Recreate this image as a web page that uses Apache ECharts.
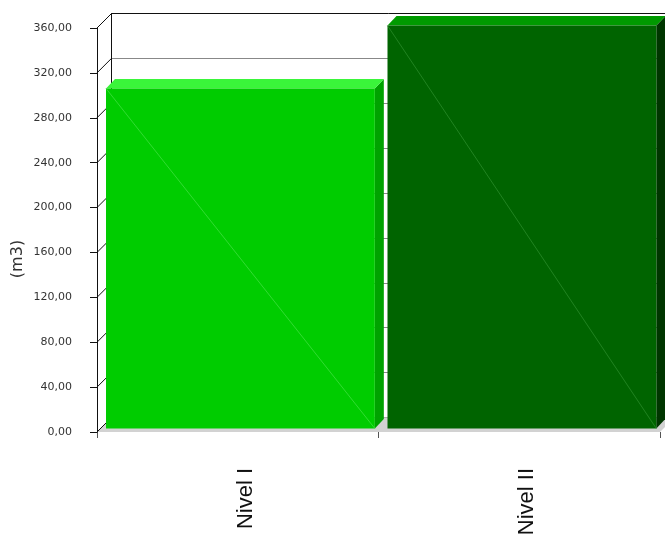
<!DOCTYPE html>
<html>
<head>
<meta charset="utf-8">
<script src="https://cdn.jsdelivr.net/npm/echarts@6/dist/echarts.min.js"></script>
<style>html,body{margin:0;padding:0;background:#fff}#c{width:665px;height:549px}</style>
</head>
<body>
<div id="c"></div>
<script>
// ---- data ----
const categories = ['Nivel I', 'Nivel II'];
const volumes = [303, 359];
const yTicks = [0, 40, 80, 120, 160, 200, 240, 280, 320, 360];
const yAxisName = '(m3)';

// ---- styles ----
const frontColors = ['#00cc00', '#006400'];
const topColors = ['#3af53a', '#009a00'];
const sideColors = ['#00a300', '#003600'];
const diagColors = ['#3fe03f', '#2a8a2a'];
const DEPTH = 14.5;

const chart = echarts.init(document.getElementById('c'), null, {renderer: 'canvas'});
const fmt = v => v.toFixed(2).replace('.', ',');

const splitColors = yTicks.map((t, i) => i === yTicks.length - 1 ? '#111' : '#888');

chart.setOption({
  animation: false,
  backgroundColor: '#fff',
  grid: [
    {left: 97, top: 28, width: 563, height: 404},
    {left: 97 + DEPTH, top: 28 - DEPTH, width: 563, height: 404}
  ],
  xAxis: [
    {
      type: 'category', gridIndex: 0, data: categories,
      axisLine: {show: false},
      axisTick: {show: true, length: 6, lineStyle: {color: '#555'}},
      axisLabel: {
        rotate: 90, margin: 36, fontSize: 22, color: '#111',
        fontFamily: 'Liberation Sans', verticalAlign: 'top', lineHeight: 16
      },
      splitLine: {show: false}
    },
    {
      type: 'category', gridIndex: 1, data: categories, show: false
    }
  ],
  yAxis: [
    {
      type: 'value', gridIndex: 0, min: 0, max: 360, interval: 40, z: 10,
      axisLine: {show: true, lineStyle: {color: '#111', width: 1}},
      axisTick: {show: true, length: 7, lineStyle: {color: '#111'}},
      axisLabel: {formatter: fmt, margin: 25, fontSize: 11, color: '#333', fontFamily: 'DejaVu Sans'},
      splitLine: {show: false}
    },
    {
      type: 'value', gridIndex: 1, min: 0, max: 360, interval: 40, z: 0,
      axisLine: {show: true, lineStyle: {color: '#111', width: 1}},
      axisTick: {show: false},
      axisLabel: {show: false},
      splitLine: {show: true, lineStyle: {color: splitColors, width: 1}}
    }
  ],
  graphic: [{
    type: 'text', x: 18, y: 259, rotation: Math.PI / 2,
    style: {text: yAxisName, fontSize: 16, fill: '#333', fontFamily: 'DejaVu Sans',
      align: 'center', verticalAlign: 'middle'}
  }],
  series: [
    {
      // floor
      type: 'custom', xAxisIndex: 0, yAxisIndex: 0, z: 1, silent: true,
      data: [[0, 0]],
      renderItem: function (params, api) {
        const cs = params.coordSys;
        const yb = api.coord([0, 0])[1];
        return {
          type: 'polygon',
          shape: {points: [[cs.x, yb], [cs.x + cs.width, yb], [cs.x + cs.width + DEPTH, yb - DEPTH], [cs.x + DEPTH, yb - DEPTH]]},
          style: {fill: '#d2d2d2'}
        };
      }
    },
    {
      // tick connectors between front axis and back wall
      type: 'custom', xAxisIndex: 0, yAxisIndex: 0, z: 2, silent: true,
      data: yTicks.map(t => [0, t]),
      renderItem: function (params, api) {
        const cs = params.coordSys;
        const y = api.coord([0, api.value(1)])[1];
        return {
          type: 'line',
          shape: {x1: cs.x, y1: y, x2: cs.x + DEPTH, y2: y - DEPTH},
          style: {stroke: '#111', lineWidth: 1}
        };
      }
    },
    {
      // 3D bars
      type: 'custom', xAxisIndex: 0, yAxisIndex: 0, z: 3, silent: true,
      data: volumes.map((v, i) => [i, v]),
      renderItem: function (params, api) {
        const i = api.value(0), v = api.value(1);
        const base = api.coord([i, 0]);
        const top = api.coord([i, v]);
        const bw = api.size([1, 0])[0];
        const x0 = base[0] - bw / 2 + 9;
        const x1 = x0 + bw * 0.955;
        const yb = base[1] - 3.5;
        const yt = top[1] - 3.5;
        const dx = 9, dy = 9.5;
        return {
          type: 'group',
          children: [
            {type: 'polygon', shape: {points: [[x1, yt], [x1 + dx, yt - dy], [x1 + dx, yb - dy], [x1, yb]]},
              style: {fill: sideColors[i]}},
            {type: 'polygon', shape: {points: [[x0, yt], [x1, yt], [x1 + dx, yt - dy], [x0 + dx, yt - dy]]},
              style: {fill: topColors[i]}},
            {type: 'rect', shape: {x: x0, y: yt, width: x1 - x0, height: yb - yt},
              style: {fill: frontColors[i]}},
            {type: 'line', shape: {x1: x0, y1: yt, x2: x1, y2: yb},
              style: {stroke: diagColors[i], lineWidth: 0.8}}
          ]
        };
      }
    }
  ]
});
</script>
</body>
</html>
